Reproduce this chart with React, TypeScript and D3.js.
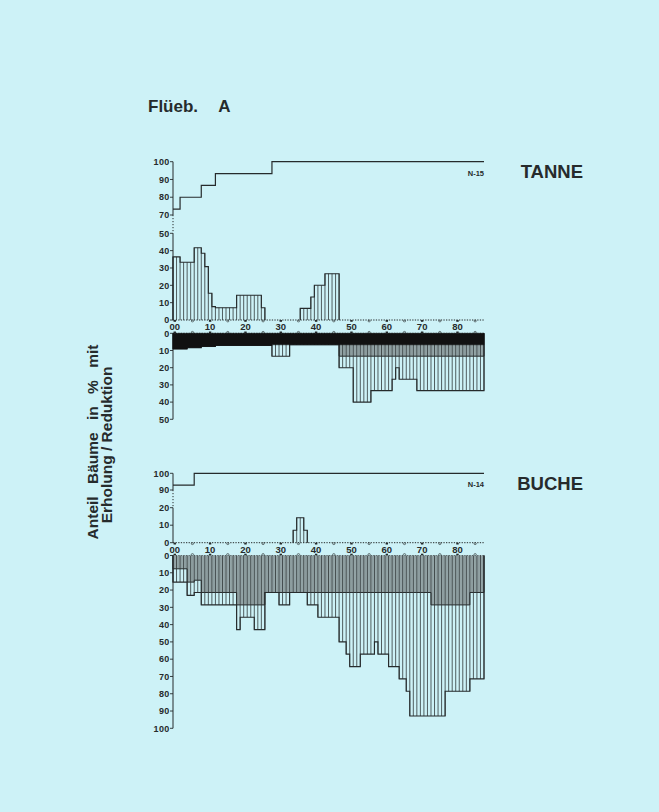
import React from "react";
import * as d3 from "d3";

type Seg = [number, number, number];

// ---------- data ----------
const yearDomain: [number, number] = [0, 88];
const xTickYears = [0, 10, 20, 30, 40, 50, 60, 70, 80];
const xTickLabels = ["00", "10", "20", "30", "40", "50", "60", "70", "80"];
const xMinorYears = [5, 15, 25, 35, 45, 55, 65, 75, 85];

// TANNE
const tanneSurvival: Seg[] = [[0, 2, 73.3], [2, 8, 80], [8, 12, 86.7], [12, 28, 93.3], [28, 88, 100]];
const tanneErholung: Seg[] = [
  [0, 2, 36.4], [2, 6, 33.3], [6, 8, 41.7], [8, 9, 38.5], [9, 10, 30.8], [10, 11, 15.4],
  [11, 12, 7.7], [12, 18, 7.1], [18, 25, 14.3], [25, 26, 7.1], [36, 39, 6.7], [39, 40, 13.3],
  [40, 43, 20], [43, 47, 26.7],
];
const tanneReduktionSchwarz: Seg[] = [[0, 4, 9.1], [4, 8, 8.3], [8, 12, 7.7], [12, 28, 7.1], [28, 88, 6.7]];
const tanneReduktionDicht: Seg[] = [[47, 88, 13.3]];
const tanneReduktion: Seg[] = [
  [28, 33, 13.3], [47, 51, 20], [51, 56, 40], [56, 62, 33.3], [62, 63, 26.7], [63, 64, 20],
  [64, 69, 26.7], [69, 88, 33.3],
];
const tanneUpperTicks = [100, 90, 80, 70];
const tanneLowerTicks = [50, 40, 30, 20, 10, 0];
const tanneRedTicks = [0, 10, 20, 30, 40, 50];

// BUCHE
const bucheSurvival: Seg[] = [[0, 6, 92.9], [6, 88, 100]];
const bucheErholung: Seg[] = [[34, 35, 7.1], [35, 37, 14.3], [37, 38, 7.1]];
const bucheReduktionSchwarz: Seg[] = [];
const bucheReduktionDicht: Seg[] = [
  [0, 4, 7.7], [4, 6, 15.4], [6, 8, 14.3], [8, 18, 21.4], [18, 26, 28.6], [26, 73, 21.4],
  [73, 84, 28.6], [84, 88, 21.4],
];
const bucheReduktion: Seg[] = [
  [0, 4, 15.4], [4, 6, 23.1], [6, 8, 21.4], [8, 18, 28.6], [18, 19, 42.9], [19, 23, 35.7],
  [23, 26, 42.9], [26, 30, 21.4], [30, 33, 28.6], [33, 38, 21.4], [38, 41, 28.6], [41, 47, 35.7],
  [47, 49, 50], [49, 50, 57.1], [50, 53, 64.3], [53, 57, 57.1], [57, 58, 50], [58, 61, 57.1],
  [61, 64, 64.3], [64, 66, 71.4], [66, 67, 78.6], [67, 77, 92.9], [77, 84, 78.6], [84, 88, 71.4],
];
const bucheUpperTicks = [100, 90];
const bucheLowerTicks = [20, 10, 0];
const bucheRedTicks = [0, 10, 20, 30, 40, 50, 60, 70, 80, 90, 100];

// ---------- style ----------
const BG = "#cdf2f7";
const INK = "#262b2c";
const DENSE = "#9aabad";
const FONT = "'Liberation Sans', Arial, Helvetica, sans-serif";

const N = yearDomain[1];
const x = d3.scaleLinear().domain(yearDomain).range([173, 484]);

function expand(segs: Seg[]): number[] {
  const v = new Array(N).fill(0);
  segs.forEach(([a, b, val]) => {
    for (let i = a; i < b; i++) v[i] = val;
  });
  return v;
}

function runsPath(vals: number[], y: (v: number) => number, base: number, close = false): string {
  const p = d3.path();
  let i = 0;
  while (i < vals.length) {
    if (vals[i] <= 0) { i++; continue; }
    const s = i;
    p.moveTo(x(s), base);
    while (i < vals.length && vals[i] > 0) {
      p.lineTo(x(i), y(vals[i]));
      p.lineTo(x(i + 1), y(vals[i]));
      i++;
    }
    p.lineTo(x(i), base);
    if (close) p.closePath();
  }
  return p.toString();
}

function Hatch({ vals, y }: { vals: number[]; y: (v: number) => number }) {
  const lines = [];
  for (let b = 0; b <= vals.length; b++) {
    const h = Math.max(vals[b - 1] ?? 0, vals[b] ?? 0);
    if (h > 0) lines.push(<line key={b} x1={x(b)} x2={x(b)} y1={y(0)} y2={y(h)} />);
  }
  return <g stroke={INK} strokeWidth={0.75}>{lines}</g>;
}

function DenseStripes({ vals, y }: { vals: number[]; y: (v: number) => number }) {
  const lines = [];
  for (let i = 0; i < vals.length; i++) {
    if (vals[i] > 0) {
      const xm = (x(i) + x(i + 1)) / 2;
      lines.push(<line key={i} x1={xm} x2={xm} y1={y(0)} y2={y(vals[i])} />);
    }
  }
  return <g stroke="#7c8c8f" strokeWidth={0.5}>{lines}</g>;
}

function YTicks({ ticks, y, tickX = 173 }: { ticks: number[]; y: (v: number) => number; tickX?: number }) {
  return (
    <g>
      {ticks.map((t) => (
        <g key={t}>
          <line x1={tickX - 3} x2={tickX} y1={y(t)} y2={y(t)} stroke={INK} strokeWidth={0.9} />
          <text x={tickX - 3.5} y={y(t) + 3.2} textAnchor="end" fontSize={9} fontWeight="bold"
            fontFamily={FONT} fill={INK} letterSpacing={0.3}>{t}</text>
        </g>
      ))}
    </g>
  );
}

function XStrip({ yTop, yBot }: { yTop: number; yBot: number }) {
  const mid = (yTop + yBot) / 2;
  return (
    <g>
      <line x1={x(0)} x2={x(N)} y1={yTop} y2={yTop} stroke={INK} strokeWidth={1} strokeDasharray="1.3,1.3" />
      <line x1={x(0)} x2={x(N)} y1={yBot} y2={yBot} stroke={INK} strokeWidth={1} strokeDasharray="1.3,1.3" />
      {xTickYears.map((yr) => (
        <g key={yr}>
          <rect x={x(yr + 0.5) - 1.2} y={yTop} width={2.4} height={1.8} fill={INK} />
          <rect x={x(yr + 0.5) - 1.2} y={yBot - 1.8} width={2.4} height={1.8} fill={INK} />
        </g>
      ))}
      {xMinorYears.map((yr) => (
        <g key={yr} fill="none" stroke={INK} strokeWidth={0.6}>
          <ellipse cx={x(yr + 0.5)} cy={yTop + 1} rx={1.2} ry={0.9} />
          <ellipse cx={x(yr + 0.5)} cy={yBot - 1} rx={1.2} ry={0.9} />
        </g>
      ))}
      {xTickYears.map((yr, i) => (
        <text key={yr} x={x(yr + 0.5)} y={mid + 3.4} textAnchor="middle" fontSize={9.5} fontWeight="bold"
          fontFamily={FONT} fill={INK}>{xTickLabels[i]}</text>
      ))}
    </g>
  );
}

function SurvivalLine({ segs, y }: { segs: Seg[]; y: (v: number) => number }) {
  const p = d3.path();
  segs.forEach(([a, b, v], i) => {
    if (i === 0) p.moveTo(x(a), y(v));
    else p.lineTo(x(a), y(v));
    p.lineTo(x(b), y(v));
  });
  return <path d={p.toString()} fill="none" stroke={INK} strokeWidth={1.2} />;
}

interface PanelProps {
  survival: Seg[];
  erholung: Seg[];
  schwarz: Seg[];
  dicht: Seg[];
  reduktion: Seg[];
  upperTicks: number[];
  lowerTicks: number[];
  redTicks: number[];
  yU: d3.ScaleLinear<number, number>;
  yL: d3.ScaleLinear<number, number>;
  yR: d3.ScaleLinear<number, number>;
  nLabel: string;
}

function Panel(p: PanelProps) {
  const ero = expand(p.erholung);
  const blk = expand(p.schwarz);
  const dns = expand(p.dicht);
  const red = expand(p.reduktion);
  const tot = red.map((v, i) => Math.max(v, dns[i], blk[i]));
  const uMin = d3.min(p.upperTicks) as number;
  const uMax = d3.max(p.upperTicks) as number;
  const lMax = d3.max(p.lowerTicks) as number;
  const rMax = d3.max(p.redTicks) as number;
  const yU = p.yU, yL = p.yL, yR = p.yR;
  return (
    <g>
      {/* axes */}
      <line x1={x(0)} x2={x(0)} y1={yU(uMax)} y2={yU(uMin)} stroke={INK} strokeWidth={1} />
      <line x1={x(0)} x2={x(0)} y1={yU(uMin)} y2={yL(lMax)} stroke={INK} strokeWidth={1} strokeDasharray="1.2,1.8" />
      <line x1={x(0)} x2={x(0)} y1={yL(lMax)} y2={yL(0)} stroke={INK} strokeWidth={1} />
      <line x1={x(0)} x2={x(0)} y1={yR(0)} y2={yR(rMax)} stroke={INK} strokeWidth={1} />
      <YTicks ticks={p.upperTicks} y={yU} />
      <YTicks ticks={p.lowerTicks} y={yL} />
      <YTicks ticks={p.redTicks} y={yR} />
      <XStrip yTop={yL(0)} yBot={yR(0)} />

      {/* survival */}
      <SurvivalLine segs={p.survival} y={yU} />
      <text x={x(N)} y={yU(100) + 14} textAnchor="end" fontSize={7.5} fontWeight="bold" fontFamily={FONT}
        fill={INK}>{p.nLabel}</text>

      {/* Erholung */}
      <Hatch vals={ero} y={yL} />
      <path d={runsPath(ero, yL, yL(0))} fill="none" stroke={INK} strokeWidth={1.1} />

      {/* Reduktion */}
      <path d={runsPath(dns, yR, yR(0), true)} fill={DENSE} stroke="none" />
      <DenseStripes vals={dns} y={yR} />
      <Hatch vals={tot} y={yR} />
      <path d={runsPath(dns, yR, yR(0))} fill="none" stroke={INK} strokeWidth={1} />
      <path d={runsPath(tot, yR, yR(0))} fill="none" stroke={INK} strokeWidth={1.1} />
      <path d={runsPath(blk, yR, yR(0), true)} fill="#111" stroke="#111" strokeWidth={0.5} />
    </g>
  );
}

export default function App() {
  const tU = d3.scaleLinear().domain([70, 100]).range([215, 161.7]);
  const tL = d3.scaleLinear().domain([0, 50]).range([320, 233.3]);
  const tR = d3.scaleLinear().domain([0, 50]).range([333.3, 419.3]);
  const bU = d3.scaleLinear().domain([90, 100]).range([490, 473.3]);
  const bL = d3.scaleLinear().domain([0, 20]).range([542.7, 507.7]);
  const bR = d3.scaleLinear().domain([0, 100]).range([555.5, 728.3]);
  return (
    <svg width={659} height={812} style={{ position: "absolute", left: 0, top: 0, display: "block" }}>
      <rect x={0} y={0} width={659} height={812} fill={BG} />
      <text x={148} y={112} fontSize={17} fontWeight="bold" fontFamily={FONT} fill={INK} wordSpacing={16}>
        Flüeb. A
      </text>
      <text x={583} y={178} textAnchor="end" fontSize={18.5} fontWeight="bold" fontFamily={FONT} fill={INK}>TANNE</text>
      <text x={583} y={490} textAnchor="end" fontSize={18.5} fontWeight="bold" fontFamily={FONT} fill={INK}>BUCHE</text>
      <g fontSize={15.5} fontWeight="bold" fontFamily={FONT} fill={INK} textAnchor="middle">
        <text transform="translate(97.5,442) rotate(-90)" wordSpacing={8}>Anteil Bäume in % mit</text>
        <text transform="translate(112,445) rotate(-90)">Erholung / Reduktion</text>
      </g>
      <Panel survival={tanneSurvival} erholung={tanneErholung} schwarz={tanneReduktionSchwarz}
        dicht={tanneReduktionDicht} reduktion={tanneReduktion} upperTicks={tanneUpperTicks}
        lowerTicks={tanneLowerTicks} redTicks={tanneRedTicks} yU={tU} yL={tL} yR={tR} nLabel="N-15" />
      <Panel survival={bucheSurvival} erholung={bucheErholung} schwarz={bucheReduktionSchwarz}
        dicht={bucheReduktionDicht} reduktion={bucheReduktion} upperTicks={bucheUpperTicks}
        lowerTicks={bucheLowerTicks} redTicks={bucheRedTicks} yU={bU} yL={bL} yR={bR} nLabel="N-14" />
    </svg>
  );
}
